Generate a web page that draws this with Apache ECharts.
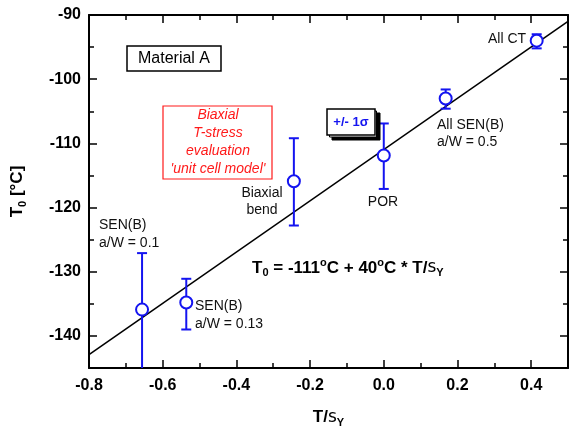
<!DOCTYPE html>
<html><head><meta charset="utf-8">
<script src="https://cdn.jsdelivr.net/npm/echarts@6/dist/echarts.min.js"></script>
<style>html,body{margin:0;padding:0;background:#fff}#c{width:569px;height:429px}</style>
</head><body><div id="c"></div>
<script>
// Data
const pointNames = ['SEN(B) a/W = 0.1','SEN(B) a/W = 0.13','Biaxial bend','POR','All SEN(B) a/W = 0.5','All CT'];
const xValues = [-0.656, -0.536, -0.244, 0.0, 0.168, 0.415];
const yValues = [-135.9, -134.8, -115.9, -111.9, -103.0, -94.0];
const errLow  = [-150.0, -139.0, -122.8, -117.1, -104.6, -95.2];
const errHigh = [-127.1, -131.1, -109.2, -106.9, -101.6, -93.0];
const fitX = [-0.8, 0.5];
const fitY = [-142.9, -91.0];
const xTicks = [-0.8, -0.6, -0.4, -0.2, 0.0, 0.2, 0.4];
const yTicks = [-140, -130, -120, -110, -100, -90];

const BLUE = '#1414f0';
const chart = echarts.init(document.getElementById('c'), null, {renderer: 'canvas'});
const lbl = {fontFamily: 'Liberation Sans, Arial', fontWeight: 'bold', fontSize: 16, color: '#000'};
const fmtX = v => (Math.abs(v) < 1e-9 ? '0.0' : v.toFixed(1));

const axisCommon = {
  axisLine: {show: true, onZero: false, lineStyle: {color: '#000', width: 2}},
  axisTick: {show: true, inside: true, length: 8, lineStyle: {color: '#000', width: 1.5}},
  minorTick: {show: true, splitNumber: 2, length: 5, lineStyle: {color: '#000', width: 1.5}},
  splitLine: {show: false}
};

const option = {
  animation: false,
  backgroundColor: '#fff',
  grid: {left: 89, top: 15, right: 1, bottom: 61, containLabel: false, outerBoundsMode: 'none'},
  xAxis: [
    Object.assign({type: 'value', position: 'bottom', min: -0.8, max: 0.5, interval: 0.2,
      axisLabel: Object.assign({margin: 10, showMaxLabel: false,
        formatter: v => xTicks.some(t => Math.abs(t - v) < 1e-6) ? fmtX(v) : ''}, lbl),
      name: '{t|T/}{s|s}{sub|Y}', nameLocation: 'middle', nameGap: 39,
      nameTextStyle: {rich: {
        t: {fontFamily: 'Liberation Sans, Arial', fontWeight: 'bold', fontSize: 17, color: '#000'},
        s: {fontFamily: 'DejaVu Sans', fontSize: 17, color: '#000'},
        sub: {fontFamily: 'Liberation Sans, Arial', fontWeight: 'bold', fontSize: 11, color: '#000', padding: [10, 0, 0, 0]}
      }}
    }, axisCommon),
    Object.assign({type: 'value', position: 'top', min: -0.8, max: 0.5, interval: 0.2,
      axisLabel: {show: false}}, axisCommon)
  ],
  yAxis: [
    Object.assign({type: 'value', position: 'left', min: -145, max: -90, splitNumber: 5,
      axisLabel: Object.assign({margin: 8, showMinLabel: false,
        formatter: v => yTicks.includes(v) ? String(v) : ''}, lbl),
      name: '{t|T}{sub|0}{t| [°C]}', nameLocation: 'middle', nameGap: 61, nameRotate: 90,
      nameTextStyle: {rich: {
        t: {fontFamily: 'Liberation Sans, Arial', fontWeight: 'bold', fontSize: 17, color: '#000'},
        sub: {fontFamily: 'Liberation Sans, Arial', fontWeight: 'bold', fontSize: 11, color: '#000', padding: [10, 0, 0, 0]}
      }}
    }, axisCommon),
    Object.assign({type: 'value', position: 'right', min: -145, max: -90, splitNumber: 5,
      axisLabel: {show: false}}, axisCommon)
  ],
  series: [
    {
      type: 'line', xAxisIndex: 0, yAxisIndex: 0, symbol: 'none', z: 2,
      lineStyle: {color: '#000', width: 1.5},
      data: fitX.map((x, i) => [x, fitY[i]])
    },
    {
      type: 'custom', xAxisIndex: 0, yAxisIndex: 0, clip: true, z: 3,
      data: xValues.map((x, i) => [x, errLow[i], errHigh[i]]),
      renderItem: function (params, api) {
        const x = api.value(0);
        const lo = api.coord([x, api.value(1)]);
        const hi = api.coord([x, api.value(2)]);
        const w = 5;
        const st = {stroke: BLUE, lineWidth: 2};
        return {type: 'group', children: [
          {type: 'line', shape: {x1: lo[0], y1: lo[1], x2: hi[0], y2: hi[1]}, style: st},
          {type: 'line', shape: {x1: hi[0] - w, y1: hi[1], x2: hi[0] + w, y2: hi[1]}, style: st},
          {type: 'line', shape: {x1: lo[0] - w, y1: lo[1], x2: lo[0] + w, y2: lo[1]}, style: st}
        ]};
      }
    },
    {
      type: 'scatter', xAxisIndex: 0, yAxisIndex: 0, z: 4,
      symbol: 'circle', symbolSize: 12,
      itemStyle: {color: '#fff', borderColor: BLUE, borderWidth: 2, opacity: 1},
      data: xValues.map((x, i) => ({name: pointNames[i], value: [x, yValues[i]]}))
    }
  ],
  graphic: [
    // Material A box
    {type: 'rect', shape: {x: 127, y: 46, width: 94, height: 25}, style: {fill: '#fff', stroke: '#000', lineWidth: 1.5}, z: 10},
    {type: 'text', x: 174, y: 58.5, style: {text: 'Material A', font: '16px Liberation Sans, Arial', fill: '#000', align: 'center', verticalAlign: 'middle'}, z: 11},
    // Red box
    {type: 'rect', shape: {x: 163, y: 106, width: 109, height: 73}, style: {fill: '#fff', stroke: '#ff1a1a', lineWidth: 1.2}, z: 10},
    {type: 'text', x: 218, y: 142.5, style: {text: 'Biaxial\nT-stress\nevaluation\n\'unit cell model\'', font: 'italic 14px Liberation Sans, Arial', fill: '#ff1a1a', align: 'center', verticalAlign: 'middle', lineHeight: 18}, z: 11},
    // +/- 1 sigma box with stacked shadow
    {type: 'rect', shape: {x: 332, y: 113, width: 48, height: 27}, style: {fill: '#000', stroke: '#000', lineWidth: 1}, z: 10},
    {type: 'rect', shape: {x: 329.5, y: 111, width: 47, height: 26}, style: {fill: '#fff', stroke: '#000', lineWidth: 1}, z: 10},
    {type: 'rect', shape: {x: 327, y: 109, width: 48, height: 26}, style: {fill: '#fff', stroke: '#000', lineWidth: 1.5}, z: 10},
    {type: 'text', x: 351, y: 122, style: {text: '+/- 1σ', font: 'bold 13px Liberation Sans, Arial', fill: BLUE, align: 'center', verticalAlign: 'middle'}, z: 11},
    // Point labels
    {type: 'text', x: 488, y: 39, style: {text: 'All CT', font: '14px Liberation Sans, Arial', fill: '#111', align: 'left', verticalAlign: 'middle'}, z: 11},
    {type: 'text', x: 437, y: 134, style: {text: 'All SEN(B)\na/W = 0.5', font: '14px Liberation Sans, Arial', fill: '#111', align: 'left', verticalAlign: 'middle', lineHeight: 17}, z: 11},
    {type: 'text', x: 383, y: 202, style: {text: 'POR', font: '14px Liberation Sans, Arial', fill: '#111', align: 'center', verticalAlign: 'middle'}, z: 11},
    {type: 'text', x: 262, y: 201.5, style: {text: 'Biaxial\nbend', font: '14px Liberation Sans, Arial', fill: '#111', align: 'center', verticalAlign: 'middle', lineHeight: 17}, z: 11},
    {type: 'text', x: 99, y: 234, style: {text: 'SEN(B)\na/W = 0.1', font: '14px Liberation Sans, Arial', fill: '#111', align: 'left', verticalAlign: 'middle', lineHeight: 18}, z: 11},
    {type: 'text', x: 195, y: 315, style: {text: 'SEN(B)\na/W = 0.13', font: '14px Liberation Sans, Arial', fill: '#111', align: 'left', verticalAlign: 'middle', lineHeight: 18}, z: 11},
    // Equation
    {type: 'text', x: 252, y: 268, z: 11, style: {
      text: '{b|T}{sub|0}{b| = -111}{sup|o}{b|C + 40}{sup|o}{b|C * T/}{s|s}{sub|Y}',
      verticalAlign: 'middle', align: 'left',
      rich: {
        b: {fontFamily: 'Liberation Sans, Arial', fontWeight: 'bold', fontSize: 17, fill: '#000'},
        sub: {fontFamily: 'Liberation Sans, Arial', fontWeight: 'bold', fontSize: 11, fill: '#000', padding: [10, 0, 0, 0]},
        sup: {fontFamily: 'Liberation Sans, Arial', fontWeight: 'bold', fontSize: 11, fill: '#000', padding: [0, 0, 10, 0]},
        s: {fontFamily: 'DejaVu Sans', fontSize: 17, fill: '#000'}
      }
    }}
  ]
};
chart.setOption(option);
</script></body></html>
